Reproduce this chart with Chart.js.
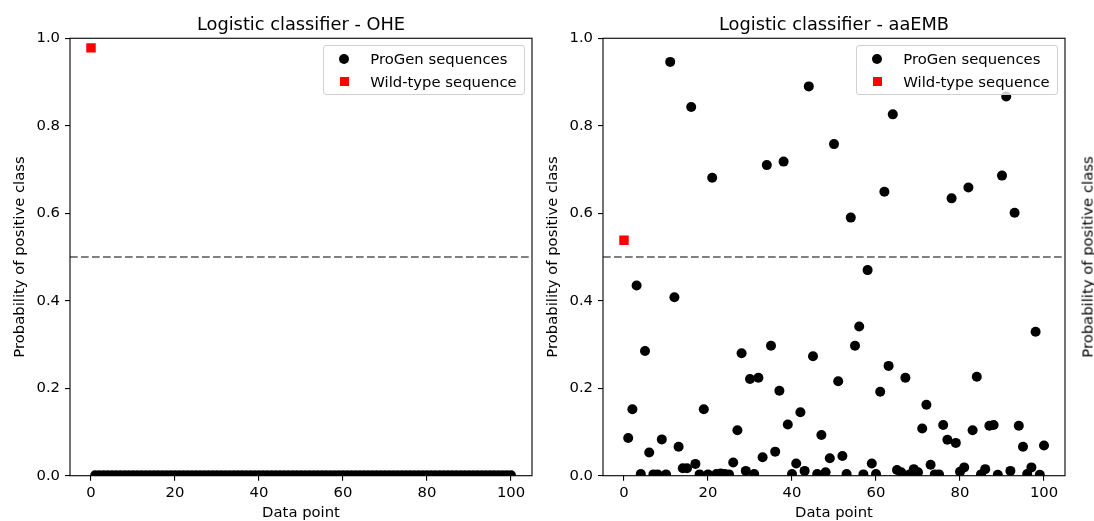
<!DOCTYPE html>
<html>
<head>
<meta charset="utf-8">
<script src="https://cdn.jsdelivr.net/npm/chart.js@4.4.1/dist/chart.umd.min.js"></script>
<style>
html,body{margin:0;padding:0;background:#fff;overflow:hidden}
body{width:1094px;height:521px;position:relative;font-family:"DejaVu Sans",sans-serif;color:#000}
.plot{position:absolute;top:0;width:547px;height:521px}
.legend{position:absolute;top:45px;width:200px;height:48px;border:1px solid #d0d0d0;border-radius:3px;background:rgba(255,255,255,0.8);font-size:14.8px}
.legend .dot{position:absolute;left:14.7px;top:8.3px;width:10px;height:10px;border-radius:50%;background:#000}
.legend .sq{position:absolute;left:15.7px;top:31.2px;width:9px;height:9px;background:#ff0000}
.legend .txt{position:absolute;left:46.3px;line-height:20px;white-space:nowrap}
.ylab3{position:absolute;left:1087px;top:257px;transform:translate(-50%,-50%) rotate(-90deg);white-space:nowrap;font-size:14.8px}
</style>
</head>
<body>

<canvas id="oheChart" class="plot" style="left:0px" width="547" height="521"></canvas>
<canvas id="embChart" class="plot" style="left:533px" width="547" height="521"></canvas>

<div class="legend" style="left:323px">
<div class="dot"></div><div class="txt" style="top:3.3px">ProGen sequences</div>
<div class="sq"></div><div class="txt" style="top:25.7px">Wild-type sequence</div>
</div>

<div class="legend" style="left:856px">
<div class="dot"></div><div class="txt" style="top:3.3px">ProGen sequences</div>
<div class="sq"></div><div class="txt" style="top:25.7px">Wild-type sequence</div>
</div>

<div class="ylab3">Probability of positive class</div>

<script>

// ===============================
// DATA
// ===============================

const X_TICKS = [0,20,40,60,80,100]
const Y_TICKS = [0,0.2,0.4,0.6,0.8,1.0]

const X_MIN = -5
const X_MAX = 105
const THRESHOLD = 0.5

const WILDTYPE_X = 0
const OHE_WILDTYPE = 0.978
const EMB_WILDTYPE = 0.538

const PROGEN_X = [
1,2,3,4,5,6,7,8,9,10,
11,12,13,14,15,16,17,18,19,20,
21,22,23,24,25,26,27,28,29,30,
31,32,33,34,35,36,37,38,39,40,
41,42,43,44,45,46,47,48,49,50,
51,52,53,54,55,56,57,58,59,60,
61,62,63,64,65,66,67,68,69,70,
71,72,73,74,75,76,77,78,79,80,
81,82,83,84,85,86,87,88,89,90,
91,92,93,94,95,96,97,98,99,100
]

const OHE_PROGEN = [
0.001,0.001,0.001,0.001,0.001,0.001,0.001,0.001,0.001,0.001,
0.001,0.001,0.001,0.001,0.001,0.001,0.001,0.001,0.001,0.001,
0.001,0.001,0.001,0.001,0.001,0.001,0.001,0.001,0.001,0.001,
0.001,0.001,0.001,0.001,0.001,0.001,0.001,0.001,0.001,0.001,
0.001,0.001,0.001,0.001,0.001,0.001,0.001,0.001,0.001,0.001,
0.001,0.001,0.001,0.001,0.001,0.001,0.001,0.001,0.001,0.001,
0.001,0.001,0.001,0.001,0.001,0.001,0.001,0.001,0.001,0.001,
0.001,0.001,0.001,0.001,0.001,0.001,0.001,0.001,0.001,0.001,
0.001,0.001,0.001,0.001,0.001,0.001,0.001,0.001,0.001,0.001,
0.001,0.001,0.001,0.001,0.001,0.001,0.001,0.001,0.001,0.001
]

const EMB_PROGEN = [
0.086,0.152,0.435,0.004,0.285,0.053,0.003,0.003,0.083,0.003,
0.946,0.408,0.066,0.017,0.017,0.843,0.027,0.003,0.152,0.003,
0.681,0.004,0.005,0.004,0.003,0.030,0.104,0.280,0.011,0.221,
0.004,0.224,0.042,0.710,0.297,0.055,0.194,0.718,0.117,0.004,
0.028,0.145,0.011,0.890,0.273,0.004,0.093,0.008,0.040,0.758,
0.216,0.045,0.004,0.590,0.297,0.341,0.003,0.470,0.028,0.004,
0.192,0.649,0.251,0.826,0.013,0.008,0.224,0.003,0.015,0.008,
0.108,0.162,0.025,0.003,0.003,0.116,0.082,0.634,0.075,0.009,
0.019,0.659,0.104,0.226,0.003,0.015,0.114,0.116,0.002,0.686,
0.867,0.011,0.601,0.114,0.066,0.004,0.019,0.329,0.002,0.069
]

// ===============================
// CHART HELPERS
// ===============================

const FONT = "DejaVu Sans"
const TICK_SIZE = 14.8
const TITLE_SIZE = 17.8

// axes frame (matplotlib spines)
const framePlugin = {
id:"frame",
afterDatasetsDraw(chart){
const a = chart.chartArea
const ctx = chart.ctx
ctx.save()
ctx.strokeStyle = "#000"
ctx.lineWidth = 1.1
ctx.strokeRect(a.left,a.top,a.right-a.left,a.bottom-a.top)
ctx.restore()
}
}

function makePanel(id, title, progen, wild){

const ctx = document.getElementById(id)

return new Chart(ctx,{

type:"scatter",

data:{
datasets:[

{
label:"Wild-type sequence",
data:[{x:WILDTYPE_X,y:wild}],
pointStyle:"rect",
pointRadius:6.7,
pointHoverRadius:6.7,
backgroundColor:"#ff0000",
borderWidth:0,
clip:0
},

{
label:"ProGen sequences",
data:PROGEN_X.map((x,i)=>({x:x,y:progen[i]})),
pointStyle:"circle",
pointRadius:5,
pointHoverRadius:5,
backgroundColor:"#000000",
borderWidth:0,
clip:0
},

{
label:"threshold",
data:[{x:X_MIN,y:THRESHOLD},{x:X_MAX,y:THRESHOLD}],
showLine:true,
borderColor:"#808080",
borderWidth:2,
borderDash:[7.7,3.3],
pointRadius:0,
fill:false,
clip:0
}

]
},

options:{
responsive:false,
animation:false,
devicePixelRatio:1,
events:[],

layout:{padding:{left:0,right:15,top:0,bottom:0}},

plugins:{
legend:{display:false},
tooltip:{enabled:false},
title:{
display:true,
text:title,
fullSize:false,
color:"#000",
font:{family:FONT,size:TITLE_SIZE,weight:"normal"},
padding:{top:14.5,bottom:2.4}
}
},

scales:{

x:{
type:"linear",
min:X_MIN,
max:X_MAX,
afterBuildTicks(scale){ scale.ticks = X_TICKS.map(v=>({value:v})) },
afterFit(scale){ scale.height = 45.3 },
grid:{drawOnChartArea:false,drawTicks:true,tickLength:5,color:"#000",lineWidth:1.1},
border:{display:false},
ticks:{
color:"#000",
font:{family:FONT,size:TICK_SIZE},
padding:4,
maxRotation:0,
autoSkip:false,
callback:(v)=>String(v)
},
title:{
display:true,
text:"Data point",
color:"#000",
font:{family:FONT,size:TICK_SIZE},
padding:{top:0,bottom:-1}
}
},

y:{
type:"linear",
min:0,
max:1,
afterBuildTicks(scale){ scale.ticks = Y_TICKS.map(v=>({value:v})) },
afterFit(scale){ scale.width = 70 },
grid:{drawOnChartArea:false,drawTicks:true,tickLength:5,color:"#000",lineWidth:1.1},
border:{display:false},
ticks:{
color:"#000",
font:{family:FONT,size:TICK_SIZE},
padding:5,
autoSkip:false,
callback:(v)=>v.toFixed(1)
},
title:{
display:true,
text:"Probability of positive class",
color:"#000",
font:{family:FONT,size:TICK_SIZE},
padding:{top:11,bottom:0}
}
}

}
},

plugins:[framePlugin]

})

}

makePanel("oheChart","Logistic classifier - OHE",OHE_PROGEN,OHE_WILDTYPE)
makePanel("embChart","Logistic classifier - aaEMB",EMB_PROGEN,EMB_WILDTYPE)

</script>
</body>
</html>
